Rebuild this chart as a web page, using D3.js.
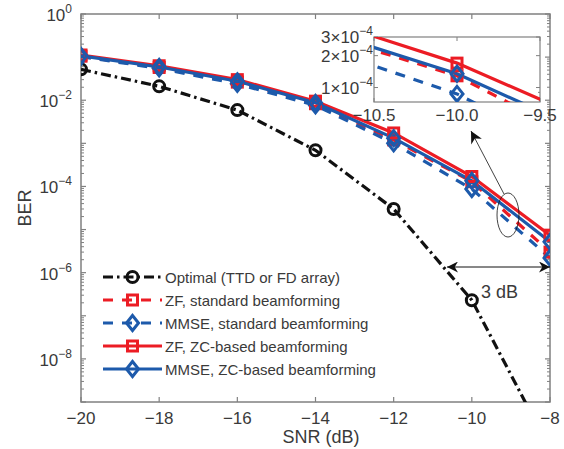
<!DOCTYPE html>
<html>
<head>
<meta charset="utf-8">
<script src="https://cdn.jsdelivr.net/npm/d3@7"></script>
<style>
  body { margin: 0; background: #fff; }
  svg { display: block; font-family: Arial, "Liberation Sans", Helvetica, sans-serif; }
</style>
</head>
<body>
<svg id="chart" width="564" height="449"></svg>
<script>
// SNR points and BER curves
var snr = [-20, -18, -16, -14, -12, -10, -8];
var berOptimal = [5.2e-2, 2.1e-2, 5.9e-3, 6.9e-4, 3.0e-5, 2.3e-7, 8e-11];
var berZfStd   = [0.105, 0.0575, 0.0263, 8.3e-3, 1.2e-3, 1.29e-4, 3.0e-6];
var berMmseStd = [0.102, 0.055, 0.024, 7.6e-3, 1.0e-3, 8.7e-5, 2.2e-6];
var berZfZc    = [0.112, 0.063, 0.030, 9.5e-3, 1.74e-3, 1.7e-4, 7.4e-6];
var berMmseZc  = [0.107, 0.059, 0.0275, 8.7e-3, 1.32e-3, 1.35e-4, 5.2e-6];

var xTicks = [-20, -18, -16, -14, -12, -10, -8];
var yTickExps = [0, -2, -4, -6, -8];
var insetXTicks = [-10.5, -10.0, -9.5];
var insetYTicks = [1e-4, 2e-4, 3e-4];

var legendLabels = [
	"Optimal (TTD or FD array)",
	"ZF, standard beamforming",
	"MMSE, standard beamforming",
	"ZF, ZC-based beamforming",
	"MMSE, ZC-based beamforming"
];

var RED = '#ec1c24', BLUE = '#1d5aab', BLACK = '#111', AXIS = '#808080', TXT = '#3a3a3a';

var series = [
	{ data: berOptimal, color: BLACK, dash: '10,4,2.5,4', marker: 'circle' },
	{ data: berZfStd, color: RED, dash: '10,9', marker: 'square' },
	{ data: berMmseStd, color: BLUE, dash: '10,9', marker: 'diamond' },
	{ data: berZfZc, color: RED, dash: null, marker: 'square' },
	{ data: berMmseZc, color: BLUE, dash: null, marker: 'diamond' }
];

var svg = d3.select('#chart');
var L = 81, R = 550, T = 14, B = 402;

var x = d3.scaleLinear().domain([-20, -8]).range([L, R]);
var y = d3.scaleLog().domain([1e-9, 1]).range([B, T]);

var defs = svg.append('defs');
defs.append('clipPath').attr('id', 'clip')
	.append('rect').attr('x', L).attr('y', T).attr('width', R - L).attr('height', B - T);

function drawMarker(g, kind, cx, cy, color, s) {
	if (kind === 'circle') {
		g.append('circle').attr('cx', cx).attr('cy', cy).attr('r', 5.5 * s)
			.attr('fill', 'none').attr('stroke', color).attr('stroke-width', 3);
	} else if (kind === 'square') {
		g.append('rect').attr('x', cx - 5 * s).attr('y', cy - 5 * s)
			.attr('width', 10 * s).attr('height', 10 * s)
			.attr('fill', 'none').attr('stroke', color).attr('stroke-width', 3);
	} else {
		var h = 7.5 * s, w = 6 * s;
		g.append('path').attr('d', 'M' + cx + ',' + (cy - h) + 'L' + (cx + w) + ',' + cy +
			'L' + cx + ',' + (cy + h) + 'L' + (cx - w) + ',' + cy + 'Z')
			.attr('fill', 'none').attr('stroke', color).attr('stroke-width', 3);
	}
}

// axes box + ticks
var axes = svg.append('g');
axes.append('rect').attr('x', L).attr('y', T).attr('width', R - L).attr('height', B - T)
	.attr('fill', 'none').attr('stroke', AXIS).attr('stroke-width', 1.5);

xTicks.forEach(function (t) {
	axes.append('line').attr('x1', x(t)).attr('x2', x(t)).attr('y1', B).attr('y2', B - 5)
		.attr('stroke', AXIS).attr('stroke-width', 1.2);
	axes.append('line').attr('x1', x(t)).attr('x2', x(t)).attr('y1', T).attr('y2', T + 5)
		.attr('stroke', AXIS).attr('stroke-width', 1.2);
	axes.append('text').attr('x', x(t)).attr('y', B + 22).attr('text-anchor', 'middle')
		.attr('font-size', 17).attr('fill', TXT).text(t < 0 ? '\u2212' + (-t) : t);
});

for (var e = -9; e <= 0; e++) {
	[L, R].forEach(function (ax) {
		var dir = ax === L ? 1 : -1;
		axes.append('line').attr('x1', ax).attr('x2', ax + dir * 5)
			.attr('y1', y(Math.pow(10, e))).attr('y2', y(Math.pow(10, e)))
			.attr('stroke', AXIS).attr('stroke-width', 1.2);
		if (e < 0) {
			for (var k = 2; k <= 9; k++) {
				var v = k * Math.pow(10, e);
				axes.append('line').attr('x1', ax).attr('x2', ax + dir * 3)
					.attr('y1', y(v)).attr('y2', y(v))
					.attr('stroke', AXIS).attr('stroke-width', 1);
			}
		}
	});
}

yTickExps.forEach(function (p) {
	var t = axes.append('text').attr('x', L - 9).attr('y', y(Math.pow(10, p)) + 7)
		.attr('text-anchor', 'end').attr('font-size', 17).attr('fill', TXT);
	t.append('tspan').text('10');
	t.append('tspan').attr('dy', -8).attr('font-size', 12)
		.text(p < 0 ? '\u2212' + (-p) : '' + p);
});

svg.append('text').attr('transform', 'translate(31,' + ((T + B) / 2) + ') rotate(-90)')
	.attr('text-anchor', 'middle').attr('font-size', 18).attr('fill', TXT).text('BER');
svg.append('text').attr('x', 321).attr('y', 443).attr('text-anchor', 'middle')
	.attr('font-size', 18).attr('fill', TXT).text('SNR (dB)');

// curves
var plot = svg.append('g').attr('clip-path', 'url(#clip)');
var line = d3.line().x(function (d, i) { return x(snr[i]); }).y(function (d) { return y(d); });

series.forEach(function (s) {
	plot.append('path').datum(s.data).attr('d', line)
		.attr('fill', 'none').attr('stroke', s.color).attr('stroke-width', 3.2)
		.attr('stroke-dasharray', s.dash);
});
series.forEach(function (s) {
	s.data.forEach(function (v, i) {
		drawMarker(plot, s.marker, x(snr[i]), y(v), s.color, 1);
	});
});

// 3 dB annotation
var arrowY = 267;
defs.append('marker').attr('id', 'ah').attr('viewBox', '0 0 10 10').attr('refX', 10).attr('refY', 5)
	.attr('markerWidth', 16).attr('markerHeight', 11).attr('markerUnits', 'userSpaceOnUse')
	.attr('orient', 'auto-start-reverse')
	.append('path').attr('d', 'M0,0L10,5L0,10L3,5Z').attr('fill', '#111');
svg.append('line').attr('x1', 447).attr('x2', R).attr('y1', arrowY).attr('y2', arrowY)
	.attr('stroke', '#111').attr('stroke-width', 1)
	.attr('marker-start', 'url(#ah)').attr('marker-end', 'url(#ah)');
svg.append('text').attr('x', 481).attr('y', 298).attr('font-size', 18).attr('fill', TXT).text('3 dB');

// zoom pointer
svg.append('ellipse').attr('cx', 508).attr('cy', 215).attr('rx', 11).attr('ry', 22)
	.attr('fill', 'none').attr('stroke', '#111').attr('stroke-width', 0.8);
defs.append('marker').attr('id', 'ah2').attr('viewBox', '0 0 10 10').attr('refX', 10).attr('refY', 5)
	.attr('markerWidth', 16).attr('markerHeight', 12).attr('markerUnits', 'userSpaceOnUse')
	.attr('orient', 'auto')
	.append('path').attr('d', 'M0,0L10,5L0,10L3,5Z').attr('fill', '#111');
svg.append('line').attr('x1', 504).attr('y1', 194).attr('x2', 471).attr('y2', 131)
	.attr('stroke', '#111').attr('stroke-width', 0.8).attr('marker-end', 'url(#ah2)');

// inset
var iL = 374, iR = 540, iT = 37, iB = 102;
var ix = d3.scaleLinear().domain([-10.5, -9.5]).range([iL, iR]);
var iy = d3.scaleLog().domain([7.3e-5, 3e-4]).range([iB, iT]);
var inset = svg.append('g');
inset.append('rect').attr('x', iL).attr('y', iT).attr('width', iR - iL).attr('height', iB - iT)
	.attr('fill', '#fff').attr('stroke', AXIS).attr('stroke-width', 1.2);
defs.append('clipPath').attr('id', 'iclip')
	.append('rect').attr('x', iL).attr('y', iT).attr('width', iR - iL).attr('height', iB - iT);

insetXTicks.forEach(function (t) {
	inset.append('line').attr('x1', ix(t)).attr('x2', ix(t)).attr('y1', iB).attr('y2', iB - 4)
		.attr('stroke', AXIS);
	inset.append('line').attr('x1', ix(t)).attr('x2', ix(t)).attr('y1', iT).attr('y2', iT + 4)
		.attr('stroke', AXIS);
	inset.append('text').attr('x', ix(t)).attr('y', iB + 19).attr('text-anchor', 'middle')
		.attr('font-size', 17).attr('fill', TXT).text('\u2212' + (-t).toFixed(1));
});
insetYTicks.forEach(function (t) {
	inset.append('line').attr('x1', iL).attr('x2', iL + 4).attr('y1', iy(t)).attr('y2', iy(t))
		.attr('stroke', AXIS);
	inset.append('line').attr('x1', iR).attr('x2', iR - 4).attr('y1', iy(t)).attr('y2', iy(t))
		.attr('stroke', AXIS);
	var tx = inset.append('text').attr('x', iL - 1).attr('y', iy(t) + 6).attr('text-anchor', 'end')
		.attr('font-size', 17).attr('fill', TXT);
	tx.append('tspan').text(Math.round(t / 1e-4) + '\u00d710');
	tx.append('tspan').attr('dy', -8).attr('font-size', 12).text('\u22124');
});
[8e-5, 9e-5].forEach(function (t) {
	inset.append('line').attr('x1', iR).attr('x2', iR - 2).attr('y1', iy(t)).attr('y2', iy(t))
		.attr('stroke', AXIS);
});

var iplot = inset.append('g').attr('clip-path', 'url(#iclip)');
var iline = d3.line().x(function (d, i) { return ix(snr[i]); }).y(function (d) { return iy(d); });
series.slice(1).forEach(function (s) {
	iplot.append('path').datum(s.data).attr('d', iline)
		.attr('fill', 'none').attr('stroke', s.color).attr('stroke-width', 3.2)
		.attr('stroke-dasharray', s.dash);
});
series.slice(1).forEach(function (s) {
	drawMarker(iplot, s.marker, ix(-10), iy(s.data[5]), s.color, 1);
});

// legend
var lg = svg.append('g');
legendLabels.forEach(function (lab, i) {
	var s = series[i], ly = 277 + i * 23;
	lg.append('line').attr('x1', 103).attr('x2', 162).attr('y1', ly).attr('y2', ly)
		.attr('stroke', s.color).attr('stroke-width', 3.2).attr('stroke-dasharray', s.dash);
	drawMarker(lg, s.marker, 132.5, ly, s.color, 1);
	lg.append('text').attr('x', 165).attr('y', ly + 5.5).attr('font-size', 15).attr('fill', TXT).text(lab);
});
</script>
</body>
</html>
